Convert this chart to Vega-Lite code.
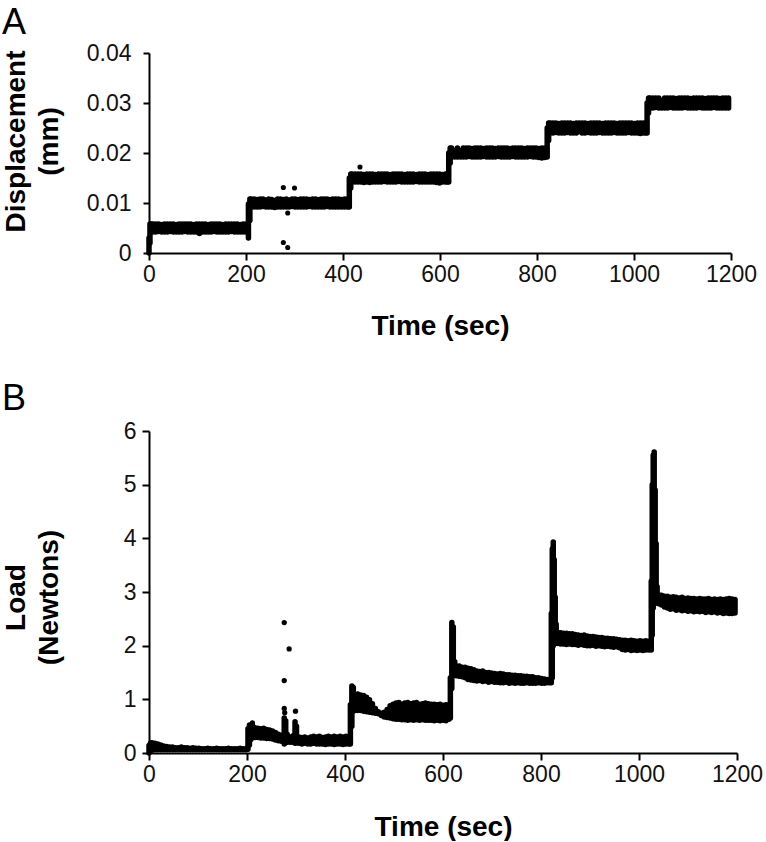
{
  "$schema": "https://vega.github.io/schema/vega-lite/v6.json",
  "background": "white",
  "padding": {"left": 2, "top": 5, "right": 5, "bottom": 0},
  "spacing": 41,
  "config": {
    "font": "Liberation Sans",
    "view": {"stroke": null},
    "axis": {
      "grid": false,
      "domainColor": "#000",
      "domainWidth": 2,
      "tickColor": "#000",
      "tickWidth": 2,
      "labelColor": "#111",
      "labelFont": "Liberation Sans",
      "labelFontSize": 23,
      "titleFont": "Liberation Sans",
      "titleFontSize": 28,
      "titleFontWeight": "bold",
      "titleColor": "#000",
      "labelFlush": false,
      "labelOverlap": false
    },
    "title": {"fontSize": 36, "fontWeight": "normal", "anchor": "start", "frame": "bounds", "color": "#000", "font": "Liberation Sans"}
  },
  "datasets": {
    "dispBand": [
      {"t":0,"lo":0.0000,"hi":0.0030},{"t":2,"lo":0.0020,"hi":0.0058},{"t":5,"lo":0.0042,"hi":0.0058},
      {"t":8,"lo":0.0042,"hi":0.0058},{"t":14,"lo":0.0042,"hi":0.0058},{"t":20,"lo":0.0043,"hi":0.0058},{"t":26,"lo":0.0042,"hi":0.0057},
      {"t":32,"lo":0.0042,"hi":0.0058},{"t":38,"lo":0.0042,"hi":0.0058},{"t":44,"lo":0.0043,"hi":0.0058},{"t":50,"lo":0.0042,"hi":0.0058},
      {"t":56,"lo":0.0042,"hi":0.0057},{"t":62,"lo":0.0042,"hi":0.0058},{"t":68,"lo":0.0042,"hi":0.0058},{"t":74,"lo":0.0043,"hi":0.0058},
      {"t":80,"lo":0.0042,"hi":0.0058},{"t":86,"lo":0.0042,"hi":0.0058},{"t":92,"lo":0.0042,"hi":0.0057},{"t":98,"lo":0.0042,"hi":0.0058},
      {"t":104,"lo":0.0039,"hi":0.0058},{"t":110,"lo":0.0042,"hi":0.0058},{"t":116,"lo":0.0042,"hi":0.0058},{"t":122,"lo":0.0042,"hi":0.0057},
      {"t":128,"lo":0.0042,"hi":0.0058},{"t":134,"lo":0.0043,"hi":0.0058},{"t":140,"lo":0.0042,"hi":0.0058},{"t":146,"lo":0.0042,"hi":0.0058},
      {"t":152,"lo":0.0042,"hi":0.0057},{"t":158,"lo":0.0042,"hi":0.0058},{"t":164,"lo":0.0042,"hi":0.0058},{"t":170,"lo":0.0043,"hi":0.0058},
      {"t":176,"lo":0.0042,"hi":0.0058},{"t":182,"lo":0.0042,"hi":0.0058},{"t":188,"lo":0.0042,"hi":0.0057},{"t":194,"lo":0.0042,"hi":0.0058},
      {"t":200,"lo":0.0042,"hi":0.0058},
      {"t":205,"lo":0.0030,"hi":0.0098},{"t":208,"lo":0.0065,"hi":0.0108},
      {"t":211,"lo":0.0092,"hi":0.0108},{"t":217,"lo":0.0092,"hi":0.0108},{"t":223,"lo":0.0092,"hi":0.0107},{"t":229,"lo":0.0092,"hi":0.0108},
      {"t":235,"lo":0.0093,"hi":0.0108},{"t":241,"lo":0.0092,"hi":0.0106},{"t":247,"lo":0.0092,"hi":0.0108},{"t":253,"lo":0.0092,"hi":0.0107},
      {"t":259,"lo":0.0091,"hi":0.0105},{"t":265,"lo":0.0092,"hi":0.0108},{"t":271,"lo":0.0092,"hi":0.0108},{"t":277,"lo":0.0092,"hi":0.0107},
      {"t":283,"lo":0.0092,"hi":0.0108},{"t":289,"lo":0.0092,"hi":0.0106},{"t":295,"lo":0.0093,"hi":0.0108},{"t":301,"lo":0.0092,"hi":0.0108},
      {"t":307,"lo":0.0092,"hi":0.0107},{"t":313,"lo":0.0092,"hi":0.0108},{"t":319,"lo":0.0092,"hi":0.0108},{"t":325,"lo":0.0092,"hi":0.0108},
      {"t":331,"lo":0.0093,"hi":0.0107},{"t":337,"lo":0.0092,"hi":0.0108},{"t":343,"lo":0.0092,"hi":0.0108},{"t":349,"lo":0.0092,"hi":0.0107},
      {"t":355,"lo":0.0092,"hi":0.0108},{"t":361,"lo":0.0092,"hi":0.0108},{"t":367,"lo":0.0093,"hi":0.0108},{"t":373,"lo":0.0092,"hi":0.0107},
      {"t":379,"lo":0.0092,"hi":0.0108},{"t":385,"lo":0.0092,"hi":0.0108},{"t":391,"lo":0.0092,"hi":0.0108},{"t":397,"lo":0.0092,"hi":0.0107},
      {"t":403,"lo":0.0092,"hi":0.0108},{"t":409,"lo":0.0092,"hi":0.0108},
      {"t":413,"lo":0.0092,"hi":0.0150},{"t":416,"lo":0.0130,"hi":0.0158},
      {"t":419,"lo":0.0142,"hi":0.0158},{"t":425,"lo":0.0142,"hi":0.0158},{"t":431,"lo":0.0142,"hi":0.0158},{"t":437,"lo":0.0142,"hi":0.0158},
      {"t":443,"lo":0.0141,"hi":0.0157},{"t":449,"lo":0.0142,"hi":0.0158},{"t":455,"lo":0.0141,"hi":0.0158},{"t":461,"lo":0.0142,"hi":0.0158},
      {"t":467,"lo":0.0142,"hi":0.0157},{"t":473,"lo":0.0142,"hi":0.0158},{"t":479,"lo":0.0142,"hi":0.0158},{"t":485,"lo":0.0143,"hi":0.0158},
      {"t":491,"lo":0.0142,"hi":0.0158},{"t":497,"lo":0.0142,"hi":0.0157},{"t":503,"lo":0.0142,"hi":0.0158},{"t":509,"lo":0.0142,"hi":0.0158},
      {"t":515,"lo":0.0143,"hi":0.0158},{"t":521,"lo":0.0142,"hi":0.0158},{"t":527,"lo":0.0142,"hi":0.0157},{"t":533,"lo":0.0142,"hi":0.0158},
      {"t":539,"lo":0.0142,"hi":0.0158},{"t":545,"lo":0.0142,"hi":0.0158},{"t":551,"lo":0.0143,"hi":0.0157},{"t":557,"lo":0.0142,"hi":0.0158},
      {"t":563,"lo":0.0142,"hi":0.0158},{"t":569,"lo":0.0142,"hi":0.0158},{"t":575,"lo":0.0142,"hi":0.0157},{"t":581,"lo":0.0142,"hi":0.0158},
      {"t":587,"lo":0.0142,"hi":0.0158},{"t":593,"lo":0.0141,"hi":0.0158},{"t":599,"lo":0.0140,"hi":0.0158},{"t":605,"lo":0.0142,"hi":0.0157},
      {"t":611,"lo":0.0142,"hi":0.0158},{"t":615,"lo":0.0142,"hi":0.0158},
      {"t":618,"lo":0.0142,"hi":0.0200},{"t":621,"lo":0.0180,"hi":0.0210},
      {"t":624,"lo":0.0192,"hi":0.0210},{"t":630,"lo":0.0192,"hi":0.0205},{"t":636,"lo":0.0192,"hi":0.0210},{"t":642,"lo":0.0192,"hi":0.0205},
      {"t":648,"lo":0.0192,"hi":0.0210},{"t":654,"lo":0.0192,"hi":0.0210},{"t":660,"lo":0.0193,"hi":0.0210},{"t":666,"lo":0.0192,"hi":0.0209},
      {"t":672,"lo":0.0192,"hi":0.0210},{"t":678,"lo":0.0192,"hi":0.0210},{"t":684,"lo":0.0192,"hi":0.0210},{"t":690,"lo":0.0193,"hi":0.0209},
      {"t":696,"lo":0.0192,"hi":0.0210},{"t":702,"lo":0.0192,"hi":0.0210},{"t":708,"lo":0.0192,"hi":0.0210},{"t":714,"lo":0.0192,"hi":0.0209},
      {"t":720,"lo":0.0193,"hi":0.0210},{"t":726,"lo":0.0192,"hi":0.0210},{"t":732,"lo":0.0192,"hi":0.0210},{"t":738,"lo":0.0192,"hi":0.0210},
      {"t":744,"lo":0.0192,"hi":0.0209},{"t":750,"lo":0.0193,"hi":0.0210},{"t":756,"lo":0.0192,"hi":0.0210},{"t":762,"lo":0.0192,"hi":0.0210},
      {"t":768,"lo":0.0192,"hi":0.0210},{"t":774,"lo":0.0192,"hi":0.0209},{"t":780,"lo":0.0192,"hi":0.0210},{"t":786,"lo":0.0193,"hi":0.0210},
      {"t":792,"lo":0.0192,"hi":0.0210},{"t":798,"lo":0.0192,"hi":0.0210},{"t":804,"lo":0.0191,"hi":0.0209},{"t":810,"lo":0.0190,"hi":0.0210},
      {"t":816,"lo":0.0191,"hi":0.0210},
      {"t":821,"lo":0.0192,"hi":0.0250},{"t":824,"lo":0.0225,"hi":0.0260},
      {"t":827,"lo":0.0240,"hi":0.0260},{"t":833,"lo":0.0240,"hi":0.0260},{"t":839,"lo":0.0241,"hi":0.0260},{"t":845,"lo":0.0240,"hi":0.0259},
      {"t":851,"lo":0.0240,"hi":0.0260},{"t":857,"lo":0.0240,"hi":0.0260},{"t":863,"lo":0.0241,"hi":0.0260},{"t":869,"lo":0.0240,"hi":0.0260},
      {"t":875,"lo":0.0240,"hi":0.0259},{"t":881,"lo":0.0240,"hi":0.0260},{"t":887,"lo":0.0243,"hi":0.0260},{"t":893,"lo":0.0240,"hi":0.0260},
      {"t":899,"lo":0.0240,"hi":0.0260},{"t":905,"lo":0.0241,"hi":0.0259},{"t":911,"lo":0.0240,"hi":0.0260},{"t":917,"lo":0.0240,"hi":0.0260},
      {"t":923,"lo":0.0240,"hi":0.0260},{"t":929,"lo":0.0241,"hi":0.0260},{"t":935,"lo":0.0240,"hi":0.0259},{"t":941,"lo":0.0240,"hi":0.0260},
      {"t":947,"lo":0.0240,"hi":0.0260},{"t":953,"lo":0.0240,"hi":0.0260},{"t":959,"lo":0.0241,"hi":0.0260},{"t":965,"lo":0.0240,"hi":0.0259},
      {"t":971,"lo":0.0240,"hi":0.0260},{"t":977,"lo":0.0240,"hi":0.0260},{"t":983,"lo":0.0240,"hi":0.0260},{"t":989,"lo":0.0241,"hi":0.0260},
      {"t":995,"lo":0.0240,"hi":0.0260},{"t":1001,"lo":0.0240,"hi":0.0259},{"t":1007,"lo":0.0240,"hi":0.0260},{"t":1013,"lo":0.0239,"hi":0.0260},
      {"t":1019,"lo":0.0240,"hi":0.0260},{"t":1024,"lo":0.0240,"hi":0.0260},
      {"t":1027,"lo":0.0240,"hi":0.0300},{"t":1030,"lo":0.0280,"hi":0.0310},
      {"t":1033,"lo":0.0290,"hi":0.0310},{"t":1039,"lo":0.0290,"hi":0.0310},{"t":1045,"lo":0.0291,"hi":0.0310},{"t":1051,"lo":0.0290,"hi":0.0310},
      {"t":1057,"lo":0.0290,"hi":0.0305},{"t":1063,"lo":0.0290,"hi":0.0310},{"t":1069,"lo":0.0290,"hi":0.0310},{"t":1075,"lo":0.0291,"hi":0.0310},
      {"t":1081,"lo":0.0290,"hi":0.0310},{"t":1087,"lo":0.0290,"hi":0.0309},{"t":1093,"lo":0.0290,"hi":0.0310},{"t":1099,"lo":0.0290,"hi":0.0310},
      {"t":1105,"lo":0.0291,"hi":0.0310},{"t":1111,"lo":0.0290,"hi":0.0310},{"t":1117,"lo":0.0290,"hi":0.0309},{"t":1123,"lo":0.0290,"hi":0.0310},
      {"t":1129,"lo":0.0290,"hi":0.0310},{"t":1135,"lo":0.0291,"hi":0.0310},{"t":1141,"lo":0.0290,"hi":0.0310},{"t":1147,"lo":0.0290,"hi":0.0309},
      {"t":1153,"lo":0.0290,"hi":0.0310},{"t":1159,"lo":0.0290,"hi":0.0310},{"t":1165,"lo":0.0291,"hi":0.0310},{"t":1171,"lo":0.0290,"hi":0.0310},
      {"t":1177,"lo":0.0290,"hi":0.0309},{"t":1183,"lo":0.0290,"hi":0.0310},{"t":1189,"lo":0.0290,"hi":0.0310},{"t":1195,"lo":0.0290,"hi":0.0310}
    ],
    "dispOut": [
      {"t":277,"v":0.0131},{"t":300,"v":0.0130},{"t":277,"v":0.0021},{"t":286,"v":0.0011},{"t":286,"v":0.0080},{"t":435,"v":0.0172}
    ],
    "loadBand": [
      {"t":0,"lo":0.00,"hi":0.14},{"t":3,"lo":0.04,"hi":0.18},{"t":6,"lo":0.05,"hi":0.19},{"t":12,"lo":0.06,"hi":0.18},
      {"t":18,"lo":0.06,"hi":0.17},{"t":24,"lo":0.06,"hi":0.15},{"t":30,"lo":0.06,"hi":0.13},{"t":36,"lo":0.06,"hi":0.12},
      {"t":42,"lo":0.06,"hi":0.11},{"t":48,"lo":0.06,"hi":0.11},{"t":54,"lo":0.06,"hi":0.10},{"t":60,"lo":0.06,"hi":0.10},
      {"t":66,"lo":0.06,"hi":0.11},{"t":72,"lo":0.06,"hi":0.10},{"t":78,"lo":0.06,"hi":0.10},{"t":84,"lo":0.06,"hi":0.09},
      {"t":90,"lo":0.06,"hi":0.10},{"t":96,"lo":0.06,"hi":0.09},{"t":102,"lo":0.06,"hi":0.09},{"t":108,"lo":0.06,"hi":0.08},
      {"t":114,"lo":0.06,"hi":0.08},{"t":120,"lo":0.06,"hi":0.09},{"t":126,"lo":0.06,"hi":0.08},{"t":132,"lo":0.06,"hi":0.08},
      {"t":138,"lo":0.06,"hi":0.09},{"t":144,"lo":0.06,"hi":0.08},{"t":150,"lo":0.06,"hi":0.08},{"t":156,"lo":0.06,"hi":0.08},
      {"t":162,"lo":0.06,"hi":0.09},{"t":168,"lo":0.06,"hi":0.08},{"t":174,"lo":0.06,"hi":0.08},{"t":180,"lo":0.06,"hi":0.08},
      {"t":186,"lo":0.06,"hi":0.09},{"t":192,"lo":0.06,"hi":0.08},{"t":198,"lo":0.06,"hi":0.08},
      {"t":202,"lo":0.07,"hi":0.45},{"t":205,"lo":0.15,"hi":0.52},{"t":208,"lo":0.25,"hi":0.51},{"t":211,"lo":0.29,"hi":0.53},
      {"t":216,"lo":0.29,"hi":0.47},{"t":222,"lo":0.29,"hi":0.46},{"t":228,"lo":0.28,"hi":0.45},{"t":234,"lo":0.28,"hi":0.46},
      {"t":240,"lo":0.27,"hi":0.44},{"t":246,"lo":0.27,"hi":0.43},{"t":252,"lo":0.26,"hi":0.41},{"t":258,"lo":0.24,"hi":0.38},
      {"t":264,"lo":0.23,"hi":0.35},{"t":270,"lo":0.22,"hi":0.33},{"t":276,"lo":0.17,"hi":0.65},{"t":279,"lo":0.20,"hi":0.60},
      {"t":282,"lo":0.20,"hi":0.35},{"t":288,"lo":0.20,"hi":0.30},{"t":294,"lo":0.20,"hi":0.32},{"t":298,"lo":0.18,"hi":0.58},
      {"t":301,"lo":0.19,"hi":0.50},{"t":306,"lo":0.18,"hi":0.30},{"t":312,"lo":0.17,"hi":0.29},{"t":318,"lo":0.18,"hi":0.30},
      {"t":324,"lo":0.17,"hi":0.28},{"t":330,"lo":0.17,"hi":0.30},{"t":336,"lo":0.18,"hi":0.31},{"t":342,"lo":0.17,"hi":0.30},
      {"t":348,"lo":0.17,"hi":0.31},{"t":354,"lo":0.17,"hi":0.29},{"t":360,"lo":0.16,"hi":0.30},{"t":366,"lo":0.17,"hi":0.31},
      {"t":372,"lo":0.17,"hi":0.30},{"t":378,"lo":0.16,"hi":0.31},{"t":384,"lo":0.17,"hi":0.30},{"t":390,"lo":0.17,"hi":0.31},
      {"t":396,"lo":0.16,"hi":0.30},{"t":402,"lo":0.17,"hi":0.31},{"t":408,"lo":0.17,"hi":0.30},
      {"t":411,"lo":0.17,"hi":0.90},{"t":414,"lo":0.50,"hi":1.25},{"t":417,"lo":0.78,"hi":1.22},
      {"t":420,"lo":0.79,"hi":1.09},{"t":426,"lo":0.79,"hi":1.10},{"t":432,"lo":0.79,"hi":1.08},{"t":438,"lo":0.78,"hi":1.07},
      {"t":444,"lo":0.77,"hi":1.04},{"t":450,"lo":0.76,"hi":0.99},{"t":456,"lo":0.75,"hi":0.92},{"t":462,"lo":0.74,"hi":0.83},
      {"t":468,"lo":0.73,"hi":0.77},{"t":474,"lo":0.70,"hi":0.74},{"t":480,"lo":0.67,"hi":0.76},{"t":486,"lo":0.66,"hi":0.81},
      {"t":492,"lo":0.65,"hi":0.88},{"t":498,"lo":0.64,"hi":0.91},{"t":504,"lo":0.63,"hi":0.93},{"t":510,"lo":0.63,"hi":0.94},
      {"t":516,"lo":0.62,"hi":0.91},{"t":522,"lo":0.62,"hi":0.93},{"t":528,"lo":0.61,"hi":0.94},{"t":534,"lo":0.62,"hi":0.92},
      {"t":540,"lo":0.61,"hi":0.93},{"t":546,"lo":0.62,"hi":0.94},{"t":552,"lo":0.61,"hi":0.91},{"t":558,"lo":0.62,"hi":0.92},
      {"t":564,"lo":0.61,"hi":0.93},{"t":570,"lo":0.61,"hi":0.92},{"t":576,"lo":0.61,"hi":0.91},{"t":582,"lo":0.60,"hi":0.91},
      {"t":588,"lo":0.61,"hi":0.90},{"t":594,"lo":0.60,"hi":0.91},{"t":600,"lo":0.61,"hi":0.89},{"t":606,"lo":0.60,"hi":0.90},
      {"t":612,"lo":0.63,"hi":0.90},
      {"t":615,"lo":0.65,"hi":1.40},{"t":618,"lo":1.20,"hi":2.43},{"t":621,"lo":1.45,"hi":2.35},{"t":624,"lo":1.45,"hi":1.70},
      {"t":627,"lo":1.44,"hi":1.62},{"t":633,"lo":1.43,"hi":1.62},{"t":639,"lo":1.42,"hi":1.60},{"t":645,"lo":1.40,"hi":1.60},
      {"t":651,"lo":1.37,"hi":1.58},{"t":657,"lo":1.36,"hi":1.57},{"t":663,"lo":1.35,"hi":1.55},{"t":669,"lo":1.34,"hi":1.53},
      {"t":675,"lo":1.35,"hi":1.52},{"t":681,"lo":1.33,"hi":1.53},{"t":687,"lo":1.34,"hi":1.50},{"t":693,"lo":1.32,"hi":1.50},
      {"t":699,"lo":1.33,"hi":1.49},{"t":705,"lo":1.32,"hi":1.48},{"t":711,"lo":1.32,"hi":1.47},{"t":717,"lo":1.31,"hi":1.48},
      {"t":723,"lo":1.31,"hi":1.47},{"t":729,"lo":1.32,"hi":1.46},{"t":735,"lo":1.30,"hi":1.46},{"t":741,"lo":1.31,"hi":1.45},
      {"t":747,"lo":1.30,"hi":1.45},{"t":753,"lo":1.31,"hi":1.44},{"t":759,"lo":1.30,"hi":1.44},{"t":765,"lo":1.30,"hi":1.43},
      {"t":771,"lo":1.31,"hi":1.43},{"t":777,"lo":1.30,"hi":1.42},{"t":783,"lo":1.30,"hi":1.42},{"t":789,"lo":1.30,"hi":1.40},
      {"t":795,"lo":1.31,"hi":1.40},{"t":801,"lo":1.30,"hi":1.39},{"t":807,"lo":1.30,"hi":1.38},{"t":813,"lo":1.31,"hi":1.37},
      {"t":818,"lo":1.31,"hi":1.37},
      {"t":821,"lo":1.31,"hi":2.60},{"t":823,"lo":1.40,"hi":3.80},{"t":825,"lo":2.00,"hi":3.93},{"t":827,"lo":2.05,"hi":3.60},
      {"t":829,"lo":2.05,"hi":2.90},{"t":831,"lo":2.06,"hi":2.40},
      {"t":834,"lo":2.04,"hi":2.25},{"t":840,"lo":2.03,"hi":2.24},{"t":846,"lo":2.03,"hi":2.23},{"t":852,"lo":2.02,"hi":2.23},
      {"t":858,"lo":2.03,"hi":2.22},{"t":864,"lo":2.02,"hi":2.22},{"t":870,"lo":2.02,"hi":2.21},{"t":876,"lo":2.01,"hi":2.20},
      {"t":882,"lo":2.02,"hi":2.19},{"t":888,"lo":2.01,"hi":2.20},{"t":894,"lo":2.00,"hi":2.18},{"t":900,"lo":2.00,"hi":2.17},
      {"t":906,"lo":2.01,"hi":2.17},{"t":912,"lo":1.99,"hi":2.16},{"t":918,"lo":2.00,"hi":2.15},{"t":924,"lo":1.99,"hi":2.15},
      {"t":930,"lo":1.98,"hi":2.14},{"t":936,"lo":1.99,"hi":2.14},{"t":942,"lo":1.98,"hi":2.13},{"t":948,"lo":1.97,"hi":2.13},
      {"t":954,"lo":1.98,"hi":2.12},{"t":960,"lo":1.96,"hi":2.11},{"t":966,"lo":1.93,"hi":2.10},{"t":972,"lo":1.92,"hi":2.10},
      {"t":978,"lo":1.93,"hi":2.09},{"t":984,"lo":1.91,"hi":2.10},{"t":990,"lo":1.92,"hi":2.09},{"t":996,"lo":1.91,"hi":2.08},
      {"t":1002,"lo":1.92,"hi":2.09},{"t":1008,"lo":1.91,"hi":2.08},{"t":1014,"lo":1.92,"hi":2.09},{"t":1020,"lo":1.92,"hi":2.08},
      {"t":1025,"lo":1.92,"hi":3.20},{"t":1027,"lo":2.20,"hi":5.00},{"t":1029,"lo":2.70,"hi":5.55},{"t":1031,"lo":2.80,"hi":5.61},
      {"t":1033,"lo":2.80,"hi":4.90},{"t":1035,"lo":2.80,"hi":3.90},{"t":1037,"lo":2.80,"hi":3.10},
      {"t":1040,"lo":2.78,"hi":2.95},{"t":1046,"lo":2.76,"hi":2.94},{"t":1052,"lo":2.72,"hi":2.92},{"t":1058,"lo":2.70,"hi":2.92},
      {"t":1064,"lo":2.68,"hi":2.90},{"t":1070,"lo":2.69,"hi":2.91},{"t":1076,"lo":2.66,"hi":2.90},{"t":1082,"lo":2.67,"hi":2.89},
      {"t":1088,"lo":2.65,"hi":2.90},{"t":1094,"lo":2.66,"hi":2.88},{"t":1100,"lo":2.64,"hi":2.89},{"t":1106,"lo":2.65,"hi":2.88},
      {"t":1112,"lo":2.63,"hi":2.88},{"t":1118,"lo":2.64,"hi":2.87},{"t":1124,"lo":2.63,"hi":2.88},{"t":1130,"lo":2.64,"hi":2.87},
      {"t":1136,"lo":2.62,"hi":2.87},{"t":1142,"lo":2.63,"hi":2.88},{"t":1148,"lo":2.62,"hi":2.86},{"t":1154,"lo":2.63,"hi":2.87},
      {"t":1160,"lo":2.61,"hi":2.86},{"t":1166,"lo":2.62,"hi":2.87},{"t":1172,"lo":2.60,"hi":2.86},{"t":1178,"lo":2.61,"hi":2.87},
      {"t":1184,"lo":2.60,"hi":2.88},{"t":1190,"lo":2.60,"hi":2.87},{"t":1196,"lo":2.61,"hi":2.86}
    ],
    "loadOut": [
      {"t":276,"v":2.43},{"t":286,"v":1.94},{"t":276,"v":1.35},{"t":276,"v":0.83},{"t":277,"v":0.75},{"t":299,"v":0.78},{"t":211,"v":0.56}
    ]
  },
  "vconcat": [
    {
      "title": {"text": "A", "offset": 0},
      "width": 582,
      "height": 200,
      "layer": [
        {
          "data": {"name": "dispBand"},
          "mark": {"type": "rule", "strokeWidth": 5.5, "strokeCap": "round", "color": "#000"},
          "encoding": {
            "x": {"field": "t", "type": "quantitative", "scale": {"domain": [0, 1200]},
              "axis": {"values": [0, 200, 400, 600, 800, 1000, 1200], "format": "d", "tickSize": 7, "labelPadding": 3, "title": "Time (sec)", "titlePadding": 26}},
            "y": {"field": "lo", "type": "quantitative", "scale": {"domain": [0, 0.04]},
              "axis": {"values": [0, 0.005, 0.01, 0.015, 0.02, 0.025, 0.03, 0.035, 0.04], "format": ".3~f",
                "labelExpr": "length(datum.label) > 4 ? '' : datum.label", "tickSize": 6, "labelPadding": 12,
                "title": ["Displacement", "(mm)"], "titleX": -147, "titleY": 88, "titleBaseline": "top", "titleAlign": "center", "titleAngle": 270, "titleLineHeight": 33}},
            "y2": {"field": "hi"}
          }
        },
        {
          "data": {"name": "dispOut"},
          "mark": {"type": "circle", "size": 26, "color": "#000", "opacity": 1},
          "encoding": {
            "x": {"field": "t", "type": "quantitative"},
            "y": {"field": "v", "type": "quantitative"}
          }
        }
      ]
    },
    {
      "title": {"text": "B", "offset": 2},
      "width": 588,
      "height": 322,
      "layer": [
        {
          "data": {"name": "loadBand"},
          "mark": {"type": "rule", "strokeWidth": 5.5, "strokeCap": "round", "color": "#000"},
          "encoding": {
            "x": {"field": "t", "type": "quantitative", "scale": {"domain": [0, 1200]},
              "axis": {"values": [0, 200, 400, 600, 800, 1000, 1200], "format": "d", "tickSize": 7, "labelPadding": 3, "title": "Time (sec)", "titlePadding": 27}},
            "y": {"field": "lo", "type": "quantitative", "scale": {"domain": [0, 6]},
              "axis": {"values": [0, 1, 2, 3, 4, 5, 6], "format": "d", "tickSize": 7, "labelPadding": 6,
                "title": ["Load", "(Newtons)"], "titleX": -147, "titleY": 166, "titleBaseline": "top", "titleAlign": "center", "titleAngle": 270, "titleLineHeight": 33}},
            "y2": {"field": "hi"}
          }
        },
        {
          "data": {"name": "loadOut"},
          "mark": {"type": "circle", "size": 28, "color": "#000", "opacity": 1},
          "encoding": {
            "x": {"field": "t", "type": "quantitative"},
            "y": {"field": "v", "type": "quantitative"}
          }
        }
      ]
    }
  ]
}
